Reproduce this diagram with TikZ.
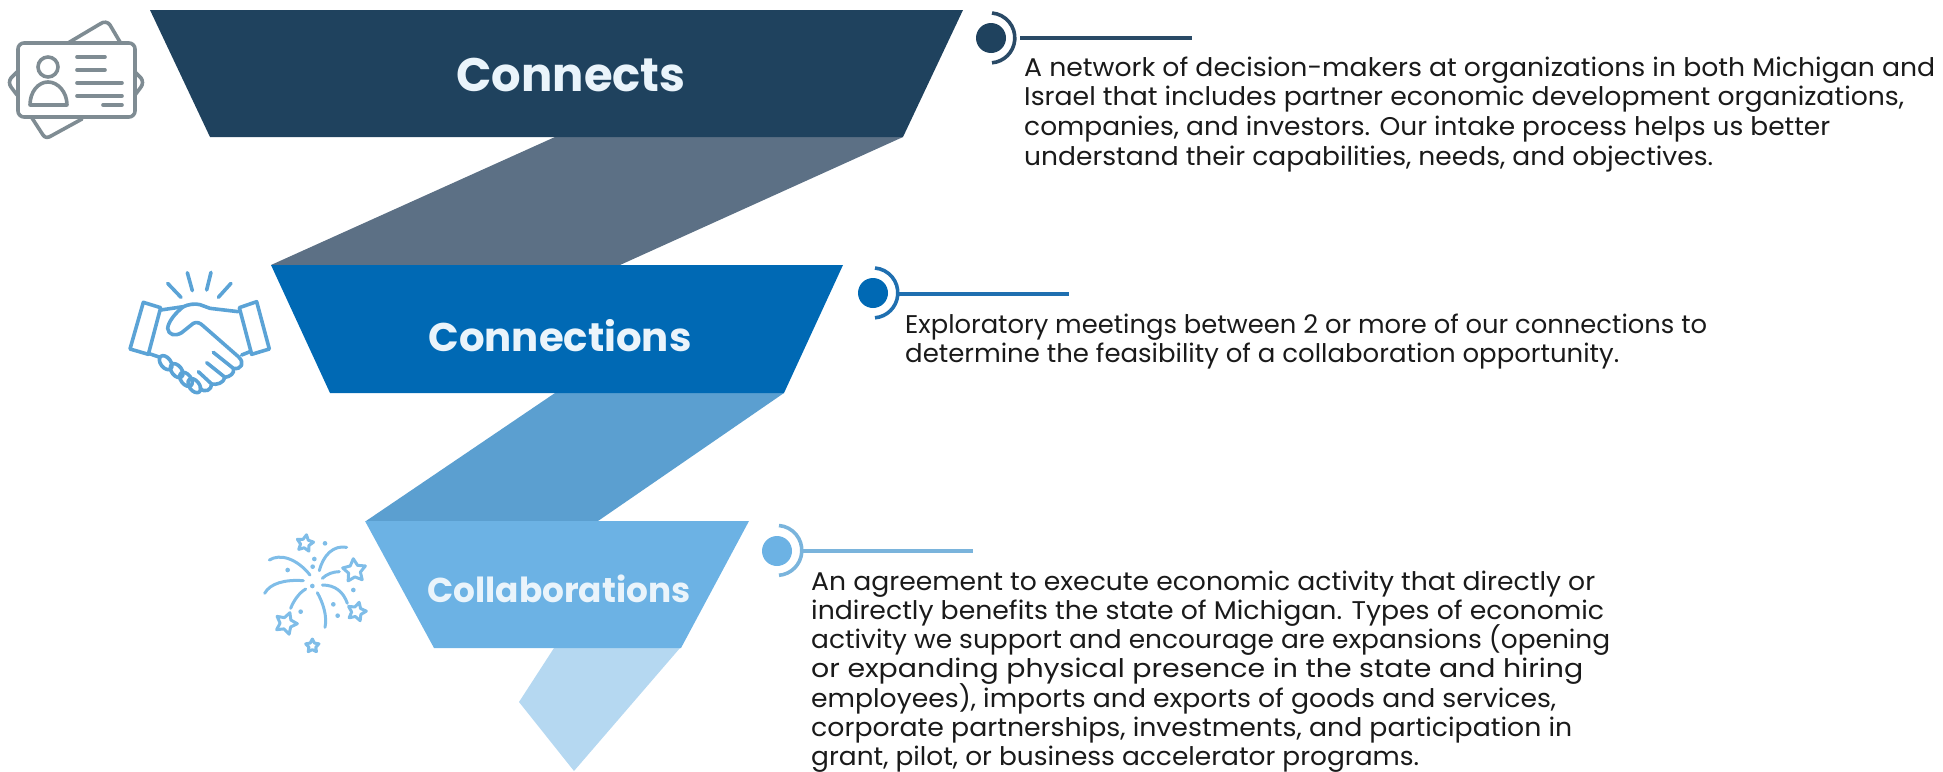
\documentclass[tikz,border=0pt]{standalone}
\usepackage{fontspec}
\usepackage{graphicx}
\setmainfont{Poppins}
\newfontfamily\headfont{Poppins}
\definecolor{trapa}{HTML}{1F425E}
\definecolor{banda}{HTML}{5C7085}
\definecolor{trapb}{HTML}{0069B4}
\definecolor{bandb}{HTML}{5B9FD0}
\definecolor{trapc}{HTML}{6CB2E4}
\definecolor{bandc}{HTML}{B5D8F1}
\definecolor{linea}{HTML}{2A4A66}
\definecolor{lineb}{HTML}{1F6FB0}
\definecolor{linec}{HTML}{7AB4DC}
\definecolor{iconid}{HTML}{7F8C93}
\definecolor{iconhand}{HTML}{5BA3D6}
\definecolor{iconfire}{HTML}{7FBDE8}
\definecolor{headtxt}{HTML}{EAF4FB}
\definecolor{bodytxt}{HTML}{1A1A1A}
\newsavebox{\fitbox}
\newcommand{\fitline}[2]{\sbox{\fitbox}{#2}\pgfmathsetmacro{\fitscale}{#1/\wd\fitbox}\ht\fitbox=20pt\relax\dp\fitbox=5pt\relax\scalebox{\fitscale}[1]{\usebox{\fitbox}}}
\tikzset{
  heading/.style={text=headtxt,inner sep=0pt,anchor=base},
  bodya/.style={text=bodytxt,inner sep=0pt,anchor=north west,align=left,font=\fontsize{25.6}{29.7}\selectfont},
  bodyb/.style={bodya,font=\fontsize{25.6}{29.2}\selectfont},
  bullet/.style={circle,inner sep=0pt,minimum size=30pt},
  rule/.style={line width=3.6pt},
  idicon/.style={draw=iconid,line width=3.6pt,line cap=round,line join=round},
  handicon/.style={draw=iconhand,line width=3.6pt,line cap=round,line join=round},
  fireicon/.style={draw=iconfire,line width=3pt,line cap=round,line join=round},
}
\begin{document}
\begin{tikzpicture}[x=1pt,y=-1pt]
\useasboundingbox (0,0) rectangle (1943,771);
% bands
\fill[banda] (555,137) -- (903,137) -- (620,265) -- (271,265) -- cycle;
\fill[bandb] (555,393) -- (784,393) -- (598,521) -- (366,521) -- cycle;
\fill[bandc] (554,648) -- (680,648) -- (574,771) -- (519,702) -- cycle;
% traps
\fill[trapa] (150,10) -- (963,10) -- (903,137) -- (210,137) -- cycle;
\fill[trapb] (271,265) -- (843,265) -- (784,393) -- (330,393) -- cycle;
\fill[trapc] (365,521) -- (749,521) -- (681,648) -- (434,648) -- cycle;
\node[heading,font=\headfont\bfseries\fontsize{47}{52}\selectfont] (h1) at (571,91) {\fitline{229}{Connects}};
\node[heading,font=\headfont\bfseries\fontsize{40}{46}\selectfont] (h2) at (560,351) {\fitline{263}{Connections}};
\node[heading,font=\headfont\bfseries\fontsize{34.5}{40}\selectfont] (h3) at (559,602) {\fitline{263}{Collaborations}};
% bullets
\node[bullet,fill=trapa] (d1) at (991,38) {};
\draw[rule,linea] (992,13) arc[start angle=-85,end angle=85,radius=25];
\coordinate (s1) at (1020,38); \coordinate (e1) at (1192,38);
\draw[rule,linea] (s1) -- (e1);
\node[bullet,fill=trapb] (d2) at (873,293) {};
\draw[rule,lineb] (875,268) arc[start angle=-85,end angle=85,radius=25];
\coordinate (s2) at (899,294); \coordinate (e2) at (1069,294);
\draw[rule,lineb] (s2) -- (e2);
\node[bullet,fill=trapc] (d3) at (777,551) {};
\draw[rule,linec] (779,525.5) arc[start angle=-85,end angle=85,radius=25];
\coordinate (s3) at (802,551); \coordinate (e3) at (973,551);
\draw[rule,linec] (s3) -- (e3);
% text
\node[bodya] (t1) at (1024,56) {\fitline{911}{A network of decision-makers at organizations in both Michigan and}\\\fitline{880}{Israel that includes partner economic development organizations,}\\\fitline{806}{companies, and investors. Our intake process helps us better}\\\fitline{689}{understand their capabilities, needs, and objectives.}};
\node[bodya] (t2) at (905,313) {\fitline{802}{Exploratory meetings between 2 or more of our connections to}\\\fitline{714}{determine the feasibility of a collaboration opportunity.}};
\node[bodyb] (t3) at (811,570) {\fitline{784}{An agreement to execute economic activity that directly or}\\\fitline{793}{indirectly benefits the state of Michigan. Types of economic}\\\fitline{799}{activity we support and encourage are expansions (opening}\\\fitline{772}{or expanding physical presence in the state and hiring}\\\fitline{745}{employees), imports and exports of goods and services,}\\\fitline{761}{corporate partnerships, investments, and participation in}\\\fitline{608}{grant, pilot, or business accelerator programs.}};
% ID icon
\begin{scope}[idicon]
\draw (68,43) -- (100,24) .. controls (104,21) and (108,22) .. (110,25) -- (120,42);
\draw (32,118) -- (43,135) .. controls (45,138) and (48,138) .. (51,136) -- (82,119);
\draw (17,72) -- (11,78) .. controls (9,81) and (9,84) .. (11,87) -- (17,95);
\draw (135,72) -- (141,78) .. controls (143,81) and (143,84) .. (141,87) -- (135,95);
\draw[rounded corners=6pt] (18,43) rectangle (135,117);
\draw (48,67) circle[radius=10];
\draw (30,105) .. controls (30,92) and (38,82) .. (48,82) .. controls (58,82) and (67,92) .. (67,105) -- cycle;
\draw (77,57) -- (105,57);
\draw (77,70) -- (105,70);
\draw (77,83) -- (122,83);
\draw (77,96) -- (122,96);
\draw (103,105) -- (122,105);
\end{scope}
% handshake icon
\begin{scope}[shift={(100,240)},x=0.33333pt,y=-0.33333pt,handicon]
\draw (203,130) -- (243,172);
\draw (262,98) -- (277,152);
\draw (333,97) -- (320,150);
\draw (393,130) -- (355,172);
\draw (130,187) -- (182,203) -- (145,343) -- (90,327) -- cycle;
\draw (418,203) -- (470,185) -- (508,327) -- (455,343) -- cycle;
\draw (182,210) -- (250,200) .. controls (265,193) and (285,190) .. (300,194) -- (330,205) -- (415,215);
\draw (250,200) .. controls (225,220) and (205,245) .. (203,265) .. controls (205,285) and (225,290) .. (245,278) -- (280,250) .. controls (290,245) and (300,248) .. (310,258) -- (415,350) .. controls (435,368) and (425,390) .. (400,385) -- (340,337);
\draw (425,345) -- (450,335);
\draw (400,385) .. controls (405,400) and (390,410) .. (375,412) -- (320,368);
\draw (375,412) .. controls (370,430) and (350,435) .. (335,432) -- (295,395);
\draw (335,432) .. controls (335,450) and (315,460) .. (300,445);
\draw (145,340) -- (180,352);
\foreach \kx/\ky in {197/368,230/392,258/418,283/437}
  \draw[rotate around={-52:(\kx,\ky)}] (\kx,\ky) ellipse[x radius=24,y radius=15];
\end{scope}
% fireworks icon
\begin{scope}[shift={(240,510)},x=0.33333pt,y=-0.33333pt,fireicon]
\foreach \sx/\sy/\sr/\srot in {195/100/26/10,343/182/36/-5,350/305/29/15,138/340/34/20,217/408/21/0}
  \draw plot[variable=\i,samples at={0,1,...,9}] ({\sx+(mod(\i,2)==0?\sr:0.52*\sr)*cos(36*\i-90+\srot)},{\sy+(mod(\i,2)==0?\sr:0.52*\sr)*sin(36*\i-90+\srot)}) -- cycle;
\draw (88,150) .. controls (120,130) and (170,145) .. (210,195);
\draw (238,182) .. controls (250,135) and (280,105) .. (320,112);
\draw (247,205) .. controls (260,192) and (280,185) .. (298,185);
\draw (74,250) .. controls (90,220) and (135,208) .. (190,212);
\draw (152,295) .. controls (160,275) and (175,250) .. (197,237);
\draw (232,248) .. controls (250,280) and (262,320) .. (255,352);
\draw (247,225) .. controls (285,225) and (310,245) .. (322,280);
\foreach \px/\py in {255/100,223/147,218/170,143/180,217/228,340/240,280/283,293/317,182/305}
  \fill[iconfire] (\px,\py) circle[radius=7];
\end{scope}
\end{tikzpicture}
\end{document}
